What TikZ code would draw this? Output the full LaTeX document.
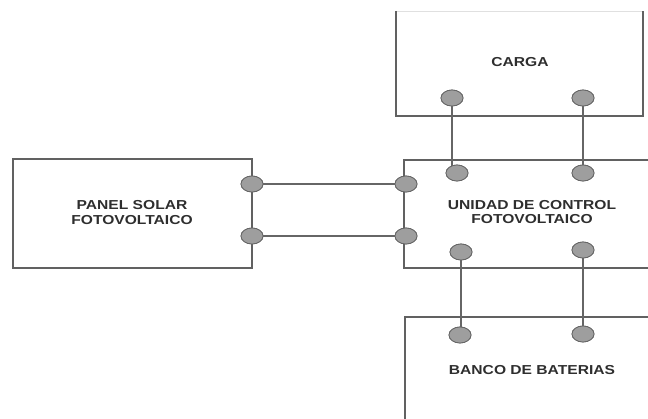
\documentclass[tikz,border=0pt]{standalone}
\usepackage{fontspec}
\setmainfont{Liberation Sans}
\usetikzlibrary{shapes.geometric}
\begin{document}
\begin{tikzpicture}[x=1pt,y=-1pt,
  boxline/.style={draw=black!62,line width=1.3pt},
  wire/.style={draw=black!60,line width=1.4pt},
  term/.style={ellipse,draw=black!60,fill=black!38,line width=0.8pt,minimum width=22pt,minimum height=16pt,inner sep=0pt},
  lbl/.style={font=\fontsize{13}{14.5}\selectfont\bfseries,text=black!82,align=center,xscale=1.2}]
\useasboundingbox (0,0) rectangle (648,419);
% boxes
\draw[boxline] (13,159) rectangle (252,268);
\draw[draw=black!12,line width=0.8pt] (396,11) -- (643,11);
\draw[boxline] (396,11) -- (396,116) -- (643,116) -- (643,11);
\draw[boxline] (650,160) -- (404,160) -- (404,268) -- (650,268);
\draw[boxline] (650,317) -- (405,317) -- (405,421);
% labels
\node[lbl] (tcarga) at (520,62) {CARGA};
\node[lbl] (tpanel) at (132,212.5) {PANEL SOLAR\\FOTOVOLTAICO};
\node[lbl] (tunidad) at (532,212) {UNIDAD DE CONTROL\\FOTOVOLTAICO};
\node[lbl] (tbanco) at (532,370) {BANCO DE BATERIAS};
% terminals
\node[term] (c1) at (452,98) {};
\node[term] (c2) at (583,98) {};
\node[term] (u1) at (457,173) {};
\node[term] (u2) at (583,173) {};
\node[term] (ul1) at (406,184) {};
\node[term] (ul2) at (406,236) {};
\node[term] (p1) at (252,184) {};
\node[term] (p2) at (252,236) {};
\node[term] (ub1) at (461,252) {};
\node[term] (ub2) at (583,250) {};
\node[term] (b1) at (460,335) {};
\node[term] (b2) at (583,334) {};
% wires
\draw[wire] (c1.center) -- (c1.center |- u1.center);
\draw[wire] (c2.center) -- (c2.center |- u2.center);
\draw[wire] (p1.center) -- (ul1.center);
\draw[wire] (p2.center) -- (ul2.center);
\draw[wire] (ub1.center) -- (ub1.center |- b1.center);
\draw[wire] (ub2.center) -- (ub2.center |- b2.center);
% redraw terminals on top
\foreach \n in {c1,c2,u1,u2,ul1,ul2,p1,p2,ub1,ub2,b1,b2}{
  \path (\n.center) node[term] {};
}
\end{tikzpicture}
\end{document}
